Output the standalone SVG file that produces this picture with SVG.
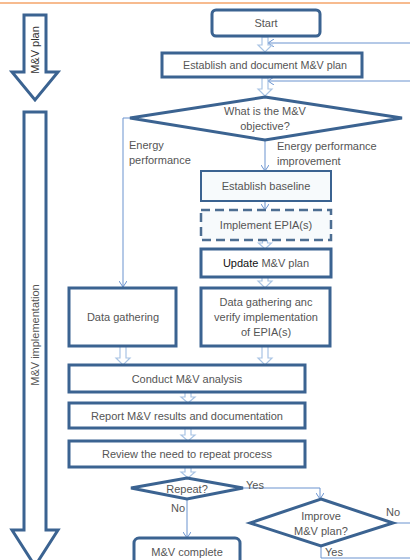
<svg xmlns="http://www.w3.org/2000/svg" width="410" height="560" viewBox="0 0 410 560">
  <style>
    .box { fill: #ffffff; stroke: #3b6391; stroke-width: 3; }
    .thin { fill: #f7fafc; stroke: #3b6391; stroke-width: 2; }
    .dash { fill: #f7fafc; stroke: #4d6e92; stroke-width: 2.5; stroke-dasharray: 9 5; }
    .dia { fill: #ffffff; stroke: #3b6391; stroke-width: 3; }
    .band { fill: #ffffff; stroke: #3b6391; stroke-width: 3; }
    .blk { fill: #ffffff; stroke: #a9c4e4; stroke-width: 1.2; }
    .ln { fill: none; stroke: #6a93cf; stroke-width: 1; }
    .t { font-family: "Liberation Sans", Arial, sans-serif; font-size: 11px; fill: #555555; text-anchor: middle; }
    .tl { font-family: "Liberation Sans", Arial, sans-serif; font-size: 11px; fill: #555555; }
  </style>
  <defs>
    <marker id="chev" markerWidth="8" markerHeight="8" refX="6" refY="4" orient="auto" markerUnits="userSpaceOnUse">
      <path d="M0,0 L6,4 L0,8" fill="none" stroke="#6a93cf" stroke-width="1"/>
    </marker>
  </defs>

  <rect width="410" height="560" fill="#ffffff"/>
  <line x1="0" y1="3" x2="410" y2="3" stroke="#f4a46a" stroke-width="1.5"/>

  <!-- phase bands -->
  <g id="band-plan">
    <path class="band" d="M24,15 H46 V72 H58 L35,100 L12,72 H24 Z"/>
    <text class="t" transform="translate(39,50) rotate(-90)" style="fill:#333333">M&amp;V plan</text>
  </g>
  <g id="band-impl">
    <path class="band" d="M24,112 H46 V530 H58 L35,566 L12,530 H24 Z"/>
    <text class="t" transform="translate(39,335) rotate(-90)">M&amp;V implementation</text>
  </g>

  <!-- connectors -->
  <g id="connectors">
    <path class="ln" d="M410,43 H268" marker-end="url(#chev)"/>
    <path class="ln" d="M410,81 H268" marker-end="url(#chev)"/>
    <path class="ln" d="M130,118 H123 V287" marker-end="url(#chev)"/>
    <path class="ln" d="M265,140 V171" marker-end="url(#chev)"/>
    <path class="ln" d="M265,201 V210" marker-end="url(#chev)"/>
    <path class="ln" d="M243,488 H320 V499" marker-end="url(#chev)"/>
    <path class="ln" d="M187,499 V538" marker-end="url(#chev)"/>
    <path class="ln" d="M393,523 H410"/>
    <path class="ln" d="M321,546 V558 H410"/>
    <!-- hollow block arrows -->
    <path class="blk" d="M262,37 h6 v8 h4 l-7,7 l-7,-7 h4 z"/>
    <path class="blk" d="M262,78 h6 v11 h4 l-7,7 l-7,-7 h4 z"/>
    <path class="blk" d="M262.5,240 h5 v3 h4 l-6.5,6 l-6.5,-6 h4 z"/>
    <path class="blk" d="M262,277 h6 v4 h4 l-7,7 l-7,-7 h4 z"/>
    <path class="blk" d="M120,346 h6 v12 h4 l-7,7 l-7,-7 h4 z"/>
    <path class="blk" d="M262,346 h6 v12 h4 l-7,7 l-7,-7 h4 z"/>
    <path class="blk" d="M185,392 h6 v5 h4 l-7,6 l-7,-6 h4 z"/>
    <path class="blk" d="M185,428 h6 v7 h4 l-7,6 l-7,-6 h4 z"/>
    <path class="blk" d="M185,467 h6 v5 h4 l-7,6 l-7,-6 h4 z"/>
  </g>

  <g id="start">
    <rect class="box" x="212" y="10" width="108" height="26" rx="4"/>
    <text class="t" x="266" y="27">Start</text>
  </g>
  <g id="plan">
    <rect class="box" x="162" y="53" width="200" height="24"/>
    <text class="t" x="265" y="69" textLength="164" lengthAdjust="spacingAndGlyphs">Establish and document M&amp;V plan</text>
  </g>
  <g id="objective">
    <polygon class="dia" points="265,97 402,118 265,140 130,118"/>
    <text class="t" x="265" y="115">What is the M&amp;V</text>
    <text class="t" x="265" y="130">objective?</text>
  </g>
  <g id="label-ep">
    <text class="tl" x="129" y="149">Energy</text>
    <text class="tl" x="129" y="164">performance</text>
  </g>
  <g id="label-epi">
    <text class="tl" x="277" y="150">Energy performance</text>
    <text class="tl" x="277" y="165">improvement</text>
  </g>
  <g id="baseline">
    <rect class="thin" x="201" y="171" width="130" height="30"/>
    <text class="t" x="266" y="190">Establish baseline</text>
  </g>
  <g id="epia">
    <rect class="dash" x="201" y="210" width="130" height="30"/>
    <text class="t" x="266" y="229">Implement EPIA(s)</text>
  </g>
  <g id="update">
    <rect class="box" x="201" y="249" width="130" height="28"/>
    <text class="t" x="266" y="267"><tspan style="fill:#111111">Update</tspan> M&amp;V plan</text>
  </g>
  <g id="gather">
    <rect class="box" x="69" y="288" width="107" height="58"/>
    <text class="t" x="123" y="321">Data gathering</text>
  </g>
  <g id="gather-verify">
    <rect class="box" x="201" y="288" width="129" height="58"/>
    <text class="t" x="266" y="306">Data gathering anc</text>
    <text class="t" x="266" y="321">verify implementation</text>
    <text class="t" x="266" y="336">of EPIA(s)</text>
  </g>
  <g id="analysis">
    <rect class="box" x="69" y="365" width="236" height="27"/>
    <text class="t" x="187" y="383">Conduct M&amp;V analysis</text>
  </g>
  <g id="report">
    <rect class="box" x="69" y="403" width="236" height="25"/>
    <text class="t" x="187" y="420">Report M&amp;V results and documentation</text>
  </g>
  <g id="review">
    <rect class="box" x="69" y="441" width="236" height="26"/>
    <text class="t" x="187" y="458">Review the need to repeat process</text>
  </g>
  <g id="repeat">
    <polygon class="dia" points="187,478 243,488 187,499 131,488"/>
    <text class="t" x="187" y="493">Repeat?</text>
  </g>
  <text class="tl" x="246" y="489">Yes</text>
  <text class="tl" x="171" y="512">No</text>
  <g id="improve">
    <polygon class="dia" points="321,499 393,523 321,546 250,523"/>
    <text class="t" x="321" y="520">Improve</text>
    <text class="t" x="321" y="535">M&amp;V plan?</text>
  </g>
  <text class="tl" x="386" y="516">No</text>
  <text class="tl" x="325" y="556">Yes</text>
  <g id="complete">
    <rect class="box" x="134" y="538" width="106" height="30" rx="5"/>
    <text class="t" x="187" y="556">M&amp;V complete</text>
  </g>
</svg>
